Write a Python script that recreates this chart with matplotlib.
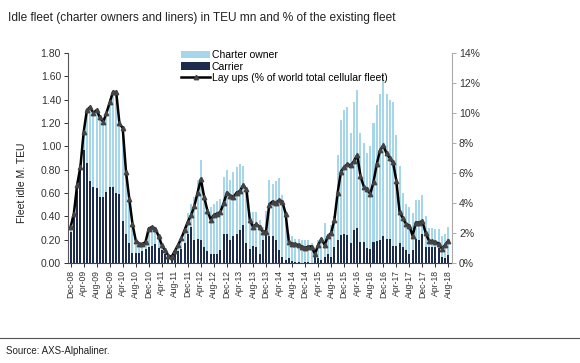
import numpy as np
import pandas as pd
import matplotlib
matplotlib.use('Agg')
import matplotlib.pyplot as plt
from matplotlib.ticker import FuncFormatter

# monthly idle fleet, Dec-08 .. Aug-18
months = pd.date_range('2008-12-01', '2018-08-01', freq='MS')
month_labels = [m.strftime('%b-%y') for m in months]

# total idle (charter owner + carrier), M TEU
total_idle = [0.30, 0.42, 0.66, 0.85, 1.12, 1.32, 1.34, 1.29, 1.31, 1.25,
              1.21, 1.28, 1.37, 1.48, 1.47, 1.19, 1.16, 0.78, 0.55, 0.34,
              0.19, 0.17, 0.16, 0.19, 0.29, 0.31, 0.29, 0.23, 0.16, 0.11,
              0.07, 0.06, 0.10, 0.16, 0.21, 0.31, 0.43, 0.51, 0.57, 0.71,
              0.88, 0.60, 0.47, 0.48, 0.51, 0.53, 0.55, 0.74, 0.80, 0.71,
              0.78, 0.82, 0.85, 0.83, 0.63, 0.44, 0.44, 0.44, 0.37, 0.31,
              0.45, 0.71, 0.68, 0.70, 0.73, 0.58, 0.45, 0.25, 0.23, 0.21,
              0.21, 0.20, 0.20, 0.20, 0.17, 0.11, 0.20, 0.20, 0.34, 0.25,
              0.33, 0.40, 0.93, 1.23, 1.31, 1.34, 1.11, 1.38, 1.48, 1.11,
              1.03, 0.94, 1.00, 1.20, 1.35, 1.45, 1.63, 1.45, 1.40, 1.38,
              1.10, 0.83, 0.60, 0.51, 0.48, 0.43, 0.54, 0.54, 0.58, 0.40,
              0.30, 0.30, 0.29, 0.29, 0.23, 0.25, 0.31]

# carrier idle, M TEU
carrier_idle = [0.27, 0.42, 0.62, 0.83, 0.97, 0.86, 0.70, 0.65, 0.64, 0.57,
                0.57, 0.61, 0.65, 0.65, 0.60, 0.59, 0.36, 0.25, 0.17, 0.09,
                0.09, 0.09, 0.10, 0.12, 0.14, 0.15, 0.16, 0.13, 0.11, 0.08,
                0.04, 0.05, 0.08, 0.10, 0.12, 0.17, 0.25, 0.31, 0.20, 0.21,
                0.20, 0.14, 0.10, 0.08, 0.08, 0.08, 0.11, 0.25, 0.25, 0.20,
                0.23, 0.25, 0.28, 0.33, 0.17, 0.12, 0.15, 0.14, 0.08, 0.20,
                0.26, 0.23, 0.23, 0.20, 0.11, 0.05, 0.03, 0.04, 0.02, 0.01,
                0.01, 0.00, 0.01, 0.01, 0.00, 0.08, 0.04, 0.03, 0.05, 0.08,
                0.05, 0.14, 0.20, 0.24, 0.25, 0.24, 0.17, 0.28, 0.30, 0.18,
                0.18, 0.13, 0.12, 0.18, 0.19, 0.20, 0.23, 0.21, 0.21, 0.15,
                0.15, 0.17, 0.14, 0.11, 0.08, 0.11, 0.21, 0.20, 0.25, 0.14,
                0.14, 0.14, 0.14, 0.13, 0.05, 0.04, 0.07]

# lay ups, % of world total cellular fleet
layups_pct = [2.4, 3.3, 5.2, 6.4, 8.7, 10.2, 10.4, 10.0, 10.2, 9.7,
              9.4, 10.0, 10.7, 11.4, 11.4, 9.3, 9.0, 6.1, 4.3, 2.6,
              1.5, 1.3, 1.25, 1.4, 2.3, 2.4, 2.3, 1.8, 1.2, 0.85,
              0.5, 0.4, 0.8, 1.2, 1.65, 2.2, 2.75, 3.2, 3.8, 4.7,
              5.6, 4.4, 3.5, 2.9, 3.2, 3.3, 3.4, 4.0, 4.7, 4.5,
              4.4, 4.7, 4.8, 5.2, 4.9, 2.9, 2.4, 2.6, 2.4, 2.1,
              2.1, 3.9, 4.1, 4.0, 4.2, 4.1, 3.3, 1.4, 1.3, 1.25,
              1.2, 1.1, 1.0, 1.1, 1.1, 0.6, 1.2, 1.6, 1.2, 1.8,
              2.0, 2.9, 4.7, 6.1, 6.4, 6.6, 6.5, 6.8, 7.2, 5.8,
              5.1, 4.9, 4.6, 5.4, 6.6, 7.5, 7.85, 7.3, 7.0, 6.7,
              5.5, 3.4, 3.0, 2.6, 2.5, 1.8, 2.7, 2.7, 2.8, 2.0,
              1.5, 1.45, 1.4, 1.3, 0.95, 1.2, 1.5]

light = '#a6d6ea'
dark = '#1d2b4c'
plt.rcParams['font.family'] = ['Liberation Sans', 'DejaVu Sans']

x = np.arange(len(months))

fig = plt.figure(figsize=(5.8, 3.63), dpi=100)
ax = fig.add_axes([68/580, 1-263/363, (452-68)/580, (263-53)/363])
ax2 = ax.twinx()

b1 = ax.bar(x, total_idle, width=0.62, color=light, label='Charter owner', zorder=2)
b2 = ax.bar(x, carrier_idle, width=0.62, color=dark, label='Carrier', zorder=3)
ln, = ax2.plot(x, layups_pct, color='black', lw=1.8, marker='^', ms=3.2,
               mfc='#444444', mec='#444444', label='Lay ups (% of world total cellular fleet)')

ax.set_xlim(-0.8, 117.1)
ax.set_ylim(0, 1.8)
ax.set_yticks(np.arange(0, 1.81, 0.2))
ax.yaxis.set_major_formatter(FuncFormatter(lambda v, p: f'{v:.2f}'))
ax2.set_ylim(0, 14)
ax2.set_yticks(np.arange(0, 15, 2))
ax2.yaxis.set_major_formatter(FuncFormatter(lambda v, p: f'{v:.0f}%'))

ax.set_xticks(x[::4])
ax.set_xticklabels(month_labels[::4], rotation=90, fontsize=6.2)

for a in (ax, ax2):
    a.spines['top'].set_visible(False)
    a.tick_params(labelsize=7.5, length=3, width=0.7, colors='#333333', pad=2)
ax.tick_params(axis='x', labelsize=6.2)
ax.spines['left'].set_color('#555555')
ax.spines['bottom'].set_color('#444444')
ax.spines['right'].set_visible(False)
ax2.spines['left'].set_visible(False)
ax2.spines['bottom'].set_visible(False)
ax2.spines['right'].set_color('#aaaaaa')
ax2.tick_params(axis='y', colors='#aaaaaa', labelcolor='#333333')

fig.text(22/580, 1-183/363, 'Fleet idle M. TEU', rotation=90, ha='center', va='center',
         fontsize=7.5, color='#222222')

leg = ax.legend([b1, b2, ln], [b1.get_label(), b2.get_label(), ln.get_label()],
                loc='upper left', bbox_to_anchor=(181/580, 1-50/363), bbox_transform=fig.transFigure,
                frameon=False, borderaxespad=0, borderpad=0, handlelength=2.8,
                handletextpad=0.15, labelspacing=0.15, prop={'size': 7.5})

fig.text(8/580, 1-18/363, 'Idle fleet (charter owners and liners) in TEU mn and % of the existing fleet',
         fontsize=8.6, color='#222222', va='center')
fig.add_artist(plt.Line2D([0, 1], [1-338/363, 1-338/363], color='#555555', lw=0.8))
fig.text(6/580, 1-351/363, 'Source: AXS-Alphaliner.', fontsize=7, color='#222222', va='center')

fig.savefig('out.png', dpi=100)
